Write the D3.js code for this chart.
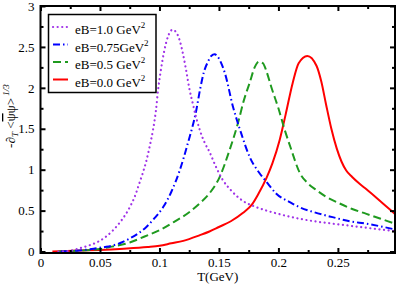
<!DOCTYPE html>
<html>
<head>
<meta charset="utf-8">
<script src="https://cdn.jsdelivr.net/npm/d3@7"></script>
<style>
  body { margin: 0; background: #fff; }
  svg { display: block; }
  text { font-family: "Liberation Serif", "Times New Roman", serif; }
</style>
</head>
<body>
<svg id="chart" width="399" height="284"></svg>
<script>
// values
const seriesNames = ['eB=1.0 GeV', 'eB=0.75GeV', 'eB=0.5 GeV', 'eB=0.0 GeV'];
const colors = ['#a033e8', '#0000ff', '#1f9a1f', '#ff0000'];
const dashes = ['0.1,4.5', '7,3,1.5,3', '8,4', null];

const tempEB10 = [0.015, 0.025, 0.033, 0.04, 0.047, 0.054, 0.061, 0.068, 0.075, 0.08, 0.083, 0.086, 0.089, 0.092, 0.0945, 0.097, 0.0988, 0.101, 0.104, 0.107, 0.111, 0.114, 0.117, 0.12, 0.1226, 0.125, 0.128, 0.131, 0.134, 0.138, 0.142, 0.147, 0.153, 0.16, 0.17, 0.18, 0.19, 0.2, 0.218, 0.23, 0.246, 0.26, 0.274, 0.298];
const condEB10 = [0, 0.01, 0.04, 0.07, 0.11, 0.17, 0.26, 0.38, 0.54, 0.7, 0.83, 0.96, 1.11, 1.3, 1.48, 1.72, 1.97, 2.2, 2.45, 2.62, 2.71, 2.68, 2.58, 2.4, 2.2, 2.0, 1.81, 1.63, 1.48, 1.33, 1.22, 1.05, 0.88, 0.75, 0.62, 0.55, 0.5, 0.46, 0.4, 0.37, 0.34, 0.315, 0.29, 0.25];

const tempEB075 = [0.017, 0.03, 0.04, 0.047, 0.054, 0.061, 0.068, 0.075, 0.082, 0.089, 0.096, 0.103, 0.11, 0.117, 0.124, 0.131, 0.134, 0.1375, 0.1408, 0.1435, 0.1464, 0.149, 0.152, 0.155, 0.1618, 0.1688, 0.176, 0.184, 0.19, 0.198, 0.21, 0.218, 0.23, 0.2455, 0.26, 0.274, 0.298];
const condEB075 = [0, 0.01, 0.025, 0.04, 0.055, 0.075, 0.11, 0.16, 0.22, 0.3, 0.41, 0.54, 0.73, 0.99, 1.33, 1.73, 1.97, 2.2, 2.32, 2.39, 2.41, 2.38, 2.3, 2.18, 1.77, 1.44, 1.15, 0.96, 0.85, 0.71, 0.6, 0.54, 0.48, 0.42, 0.37, 0.34, 0.27];

const tempEB05 = [0.015, 0.03, 0.05, 0.06, 0.075, 0.087, 0.1, 0.112, 0.125, 0.134, 0.142, 0.1506, 0.158, 0.166, 0.171, 0.1758, 0.18, 0.1836, 0.187, 0.19, 0.194, 0.2, 0.205, 0.21, 0.218, 0.225, 0.232, 0.24, 0.251, 0.262, 0.274, 0.286, 0.298];
const condEB05 = [0, 0.01, 0.03, 0.06, 0.11, 0.18, 0.26, 0.36, 0.48, 0.59, 0.71, 0.91, 1.2, 1.57, 1.85, 2.06, 2.25, 2.32, 2.3, 2.2, 2.01, 1.75, 1.5, 1.28, 0.96, 0.83, 0.75, 0.67, 0.59, 0.52, 0.46, 0.4, 0.34];

const tempEB00 = [0.01, 0.033, 0.05, 0.07, 0.09, 0.1, 0.11, 0.12, 0.134, 0.142, 0.15, 0.16, 0.17, 0.178, 0.183, 0.19, 0.195, 0.201, 0.206, 0.212, 0.217, 0.2243, 0.232, 0.236, 0.24, 0.2445, 0.249, 0.253, 0.257, 0.262, 0.268, 0.274, 0.2876, 0.298];
const condEB00 = [0, 0.012, 0.02, 0.035, 0.055, 0.07, 0.1, 0.13, 0.2, 0.245, 0.3, 0.37, 0.47, 0.58, 0.7, 0.9, 1.08, 1.36, 1.67, 2.06, 2.3, 2.39, 2.27, 2.08, 1.8, 1.5, 1.26, 1.1, 0.99, 0.91, 0.83, 0.76, 0.59, 0.46];

const xTicks = [0, 0.05, 0.1, 0.15, 0.2, 0.25];
const xMinor = [0.025, 0.075, 0.125, 0.175, 0.225, 0.275];
const yTicks = [0, 0.5, 1, 1.5, 2, 2.5, 3];
const yMinor = [0.25, 0.75, 1.25, 1.75, 2.25, 2.75];

const temps = [tempEB10, tempEB075, tempEB05, tempEB00];
const conds = [condEB10, condEB075, condEB05, condEB00];

const svg = d3.select('#chart');
const plotLeft = 40.5, plotRight = 395, plotTop = 6, plotBottom = 253;

const x = d3.scaleLinear().domain([0, 0.298]).range([plotLeft, plotRight]);
const y = d3.scaleLinear().domain([-0.018, 3]).range([plotBottom, plotTop]);

svg.append('clipPath').attr('id', 'clip')
    .append('rect')
    .attr('x', plotLeft).attr('y', plotTop)
    .attr('width', plotRight - plotLeft).attr('height', plotBottom - plotTop);

const line = d3.line()
    .x(d => x(d[0]))
    .y(d => y(d[1]))
    .curve(d3.curveMonotoneX);

const plot = svg.append('g').attr('clip-path', 'url(#clip)');

// draw red first so the dotted one stays on top like the original
[3, 2, 1, 0].forEach(i => {
    const pts = temps[i].map((t, j) => [t, conds[i][j]]);
    plot.append('path')
        .datum(pts)
        .attr('d', line)
        .attr('fill', 'none')
        .attr('stroke', colors[i])
        .attr('stroke-width', i === 0 ? 2.2 : 2)
        .attr('stroke-linecap', i === 0 ? 'round' : 'butt')
        .attr('stroke-dasharray', dashes[i]);
});

// axes, ticks pointing inwards
const styleAxis = g => {
    g.select('.domain').remove();
    g.selectAll('line').attr('stroke', '#000').attr('stroke-width', 2);
    g.selectAll('text')
        .attr('font-family', '"Liberation Serif", "Times New Roman", serif')
        .attr('font-size', 13)
        .attr('fill', '#000');
};

svg.append('g')
    .attr('transform', `translate(0,${plotBottom})`)
    .call(d3.axisBottom(x).tickValues(xTicks).tickSize(-5).tickPadding(5).tickFormat(d => String(d)))
    .call(styleAxis);
svg.append('g')
    .attr('transform', `translate(0,${plotBottom})`)
    .call(d3.axisBottom(x).tickValues(xMinor).tickSize(-3).tickFormat(''))
    .call(styleAxis);
svg.append('g')
    .attr('transform', `translate(0,${plotTop})`)
    .call(d3.axisTop(x).tickValues(xTicks).tickSize(-5).tickFormat(''))
    .call(styleAxis);
svg.append('g')
    .attr('transform', `translate(0,${plotTop})`)
    .call(d3.axisTop(x).tickValues(xMinor).tickSize(-3).tickFormat(''))
    .call(styleAxis);

svg.append('g')
    .attr('transform', `translate(${plotLeft},0)`)
    .call(d3.axisLeft(y).tickValues(yTicks).tickSize(-5).tickPadding(6).tickFormat(d => String(d)))
    .call(styleAxis);
svg.append('g')
    .attr('transform', `translate(${plotLeft},0)`)
    .call(d3.axisLeft(y).tickValues(yMinor).tickSize(-3).tickFormat(''))
    .call(styleAxis);
svg.append('g')
    .attr('transform', `translate(${plotRight},0)`)
    .call(d3.axisRight(y).tickValues(yTicks).tickSize(-5).tickFormat(''))
    .call(styleAxis);
svg.append('g')
    .attr('transform', `translate(${plotRight},0)`)
    .call(d3.axisRight(y).tickValues(yMinor).tickSize(-3).tickFormat(''))
    .call(styleAxis);

svg.append('rect')
    .attr('x', plotLeft).attr('y', plotTop)
    .attr('width', plotRight - plotLeft).attr('height', plotBottom - plotTop)
    .attr('fill', 'none')
    .attr('stroke', '#000')
    .attr('stroke-width', 2);

// axis titles
svg.append('text')
    .attr('x', (plotLeft + plotRight) / 2).attr('y', 281)
    .attr('text-anchor', 'middle')
    .attr('font-size', 13)
    .text('T(GeV)');

const yLab = svg.append('text')
    .attr('transform', 'translate(15,116) rotate(-90)')
    .attr('text-anchor', 'middle')
    .attr('font-size', 13);
yLab.append('tspan').text('-∂');
yLab.append('tspan').attr('font-size', 9).attr('font-style', 'italic').attr('dy', 3).text('T');
yLab.append('tspan').attr('dy', -3).text(' <');
yLab.append('tspan').attr('text-decoration', 'overline').text('ψ');
yLab.append('tspan').text('ψ>');
yLab.append('tspan').attr('font-size', 9).attr('font-style', 'italic').attr('dy', -6).text(' 1/3');

// legend
const legend = svg.append('g');
legend.append('rect')
    .attr('x', 48.5).attr('y', 14.5)
    .attr('width', 107.5).attr('height', 78)
    .attr('fill', '#fff')
    .attr('stroke', '#000')
    .attr('stroke-width', 1.5);

seriesNames.forEach((name, i) => {
    const cy = 27 + i * 17.5;
    legend.append('line')
        .attr('x1', 53).attr('x2', 68)
        .attr('y1', cy).attr('y2', cy)
        .attr('stroke', colors[i])
        .attr('stroke-width', i === 0 ? 2.2 : 2)
        .attr('stroke-linecap', i === 0 ? 'round' : 'butt')
        .attr('stroke-dasharray', dashes[i]);
    const t = legend.append('text')
        .attr('x', 75).attr('y', cy + 7)
        .attr('font-size', 13);
    t.append('tspan').text(name);
    t.append('tspan').attr('font-size', 9).attr('dy', -6).text('2');
});
</script>
</body>
</html>
